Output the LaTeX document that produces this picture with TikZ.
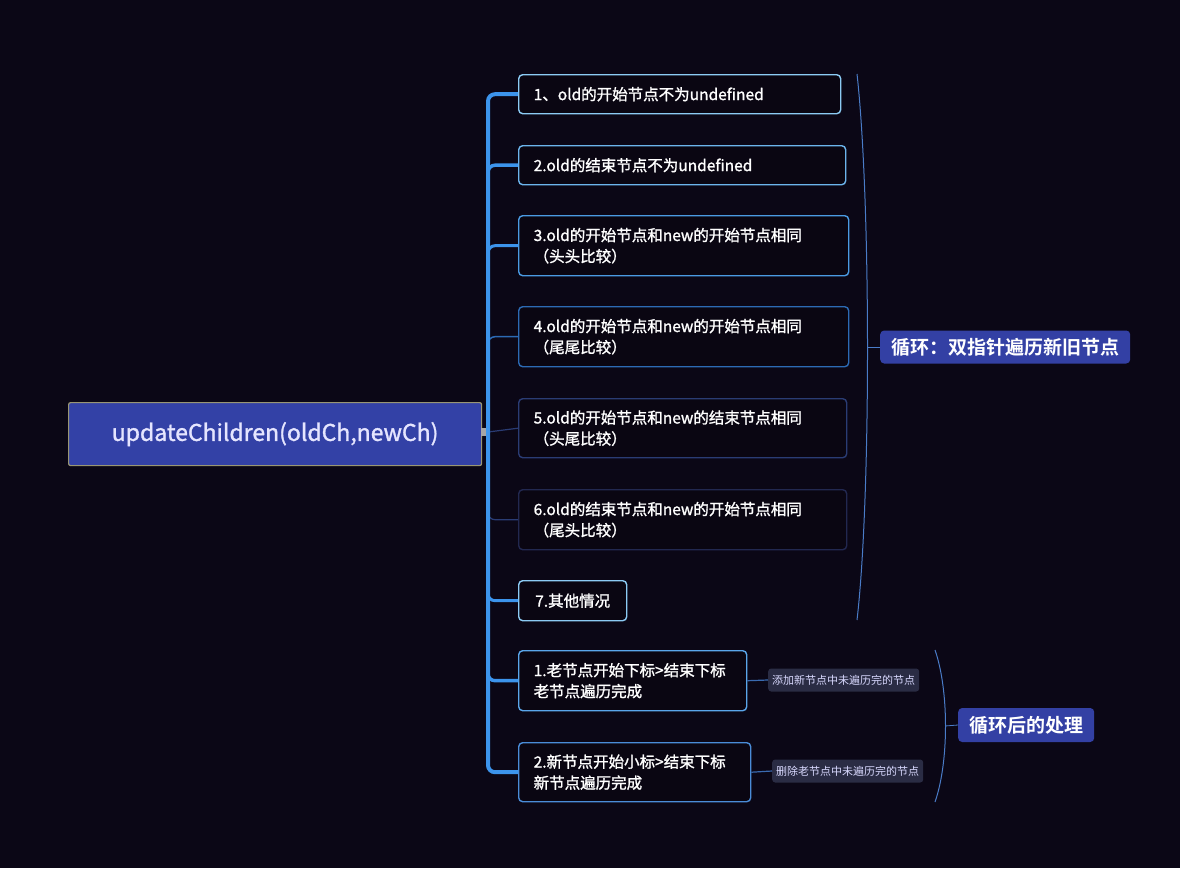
\documentclass[tikz,border=0pt]{standalone}
\usepackage{fontspec}
\setmainfont{Noto Sans CJK SC}
\newfontfamily\cjkb{Noto Sans CJK SC Bold}
\newfontfamily\cjkfb{Noto Sans CJK SC}[FakeBold=1.3]
\begin{document}
\begin{tikzpicture}[x=1pt,y=-1pt,
  box/.style={draw=#1, line width=1.4pt, rounded corners=4pt, fill=boxfill, anchor=north west,
     inner xsep=15pt, inner ysep=0pt, align=left, text=white, font=\cjkfb\fontsize{15.5}{21}\selectfont},
  branch/.style={draw=trunkc, line width=#1, rounded corners=7pt},
  brace/.style={draw=bracec, line width=1pt},
  label/.style={fill=labc, rounded corners=4pt, text=white, inner xsep=11pt, inner ysep=0pt,
     font=\cjkb\fontsize{19}{21}\selectfont, anchor=west},
  leaf/.style={fill=leafc, rounded corners=3pt, text=white!85!blue, inner xsep=4pt, inner ysep=0pt,
     font=\fontsize{11}{12}\selectfont, anchor=west, minimum height=23pt},
  leafline/.style={draw=leaflc, line width=1.2pt}
]
\definecolor{bgc}{HTML}{0B0716}
\definecolor{boxfill}{HTML}{0A0612}
\definecolor{trunkc}{HTML}{3C94EC}
\definecolor{bracec}{HTML}{4A7CC8}
\definecolor{labc}{HTML}{3340A4}
\definecolor{leafc}{HTML}{2A2C44}
\definecolor{leaflc}{HTML}{3A6AB0}
\definecolor{rootc}{HTML}{3341A6}
\definecolor{c1}{HTML}{8CCBF4}
\definecolor{c2}{HTML}{6CB4EC}
\definecolor{c3}{HTML}{4A9AE2}
\definecolor{c4}{HTML}{2C6AB4}
\definecolor{c5}{HTML}{2A3C74}
\definecolor{c6}{HTML}{222850}
\definecolor{c8}{HTML}{5AA6EA}
\definecolor{c9}{HTML}{4A8CD8}

\fill[bgc] (0,0) rectangle (1180,868);
\useasboundingbox (0,0) rectangle (1180,868);

% root
\node[draw=black!40!yellow!40!gray, line width=1.2pt, fill=rootc, rounded corners=2pt,
      minimum width=413pt, minimum height=63pt, anchor=north west, text=white!90!blue,
      font=\cjkfb\fontsize{23}{25}\selectfont] (root) at (68,402) {updateChildren(oldCh,newCh)};

% boxes
\node[box=c1, minimum width=322pt, minimum height=39pt, text width=292pt] (b1) at (518,74) {1、old的开始节点不为undefined};
\node[box=c2, minimum width=327pt, minimum height=39pt, text width=297pt] (b2) at (518,145) {2.old的结束节点不为undefined};
\node[box=c3, minimum width=330pt, minimum height=60pt, text width=300pt] (b3) at (518,215) {3.old的开始节点和new的开始节点相同\\（头头比较）};
\node[box=c4, minimum width=330pt, minimum height=60pt, text width=300pt] (b4) at (518,306) {4.old的开始节点和new的开始节点相同\\（尾尾比较）};
\node[box=c5, minimum width=328pt, minimum height=59pt, text width=298pt] (b5) at (518,398) {5.old的开始节点和new的结束节点相同\\（头尾比较）};
\node[box=c6, minimum width=328pt, minimum height=60pt, text width=298pt] (b6) at (518,489) {6.old的结束节点和new的开始节点相同\\（尾头比较）};
\node[box=c1, minimum width=108pt, minimum height=40pt, inner xsep=0pt, align=center] (b7) at (518,580) {7.其他情况};
\node[box=c8, minimum width=228pt, minimum height=60pt, text width=198pt] (b8) at (518,650) {1.老节点开始下标>结束下标\\老节点遍历完成};
\node[box=c9, minimum width=232pt, minimum height=59pt, text width=202pt] (b9) at (518,742) {2.新节点开始小标>结束下标\\新节点遍历完成};

% trunk and branches
\coordinate (tr) at (488,432);
\draw[line width=1.5pt, draw=gray!70] (root.east) -- (tr);
\fill[gray!70] (481,428) rectangle (489,436);
\draw[branch=4pt] (tr) |- (b1.west);
\draw[branch=3.5pt] (tr) |- (b2.west);
\draw[branch=3pt] (tr) |- (b3.west);
\draw[branch=1.5pt, draw=c4] (tr) |- (b4.west);
\draw[branch=1.2pt, draw=c5] (tr) -- (b5.west);
\draw[branch=1.2pt, draw=c5] (tr) |- (b6.west);
\draw[branch=3pt] (tr) |- (b7.west);
\draw[branch=3.5pt] (tr) |- (b8.west);
\draw[branch=4pt] (tr) |- (b9.west);
\draw[trunkc, line width=4pt] (488,300) -- (488,560);

% labels
\node[label, minimum height=33pt] (l1) at (880,347) {循环：双指针遍历新旧节点};
\node[label, minimum height=34pt] (l2) at (958,725) {循环后的处理};

% braces
\coordinate (br1) at (867,347);
\coordinate (br2) at (945,726);
\draw[brace] (857,74) .. controls (871,200) and (871,500) .. (857,620);
\draw[brace] (935,650) .. controls (949,690) and (949,762) .. (935,802);
\draw[brace, line width=0.8pt] (br1) -- (l1.west);
\draw[brace, line width=0.8pt] (br2) -- (l2.west);

% leaves
\node[leaf] (s1) at (768,680) {添加新节点中未遍历完的节点};
\node[leaf] (s2) at (772,771) {删除老节点中未遍历完的节点};
\draw[leafline] (b8.east) -- (s1.west);
\draw[leafline] (b9.east) -- (s2.west);
\end{tikzpicture}
\end{document}
